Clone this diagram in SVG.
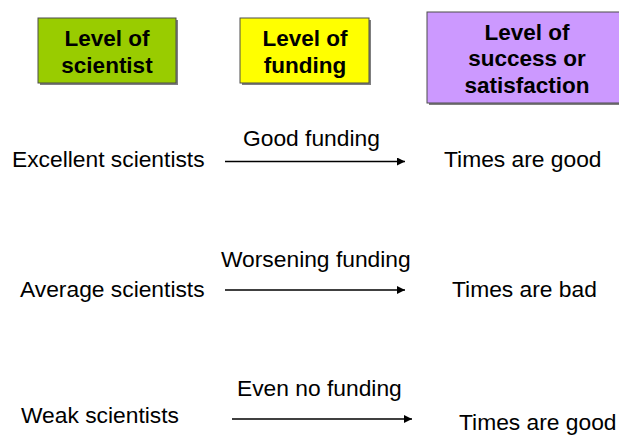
<svg xmlns="http://www.w3.org/2000/svg" width="619" height="435" viewBox="0 0 619 435">
<style>
.t{font-family:"Liberation Sans",Arial,sans-serif;font-size:22.8px;fill:#000}
.h{font-family:"Liberation Sans",Arial,sans-serif;font-size:22.5px;font-weight:bold;fill:#000;text-anchor:middle}
.box{stroke:#4d4d4d;stroke-width:1}
.sh{fill:#7f7f7f}
.c{stroke:#000;stroke-width:1.3;fill:none}
</style>
<defs>
<marker id="ah" viewBox="0 0 10 10" refX="10" refY="5" markerWidth="8" markerHeight="8" markerUnits="userSpaceOnUse" orient="auto">
<path d="M0,0 L10,5 L0,10 z" fill="#000"/>
</marker>
</defs>
<rect width="619" height="435" fill="#fff"/>
<g id="hdr-scientist">
<rect class="sh" x="40" y="20" width="138" height="65"/>
<rect class="box" x="38" y="18" width="138" height="65" fill="#99cc00"/>
<text class="h" x="107" y="46">Level of</text>
<text class="h" x="107" y="73">scientist</text>
</g>
<g id="hdr-funding">
<rect class="sh" x="242" y="20" width="129" height="65"/>
<rect class="box" x="240" y="18" width="129" height="65" fill="#ffff00"/>
<text class="h" x="305" y="46">Level of</text>
<text class="h" x="305" y="73">funding</text>
</g>
<g id="hdr-success">
<rect class="sh" x="429" y="14" width="200" height="91"/>
<rect class="box" x="427" y="12" width="200" height="91" fill="#cc99ff"/>
<text class="h" x="527" y="40">Level of</text>
<text class="h" x="527" y="66">success or</text>
<text class="h" x="527" y="93">satisfaction</text>
</g>
<g id="row1">
<text class="t" x="12" y="167">Excellent scientists</text>
<text class="t" x="444" y="167">Times are good</text>
</g>
<g id="row2">
<text class="t" x="20" y="297">Average scientists</text>
<text class="t" x="452" y="297">Times are bad</text>
</g>
<g id="row3">
<text class="t" x="21" y="423">Weak scientists</text>
<text class="t" x="459" y="430">Times are good</text>
</g>
<g id="connectors">
<line class="c" x1="225" y1="161.5" x2="405" y2="161.5" marker-end="url(#ah)"/>
<text class="t" x="243" y="146">Good funding</text>
<line class="c" x1="225" y1="290" x2="405" y2="290" marker-end="url(#ah)"/>
<text class="t" x="221" y="267">Worsening funding</text>
<line class="c" x1="232" y1="419" x2="412" y2="419" marker-end="url(#ah)"/>
<text class="t" x="237" y="396">Even no funding</text>
</g>
</svg>
